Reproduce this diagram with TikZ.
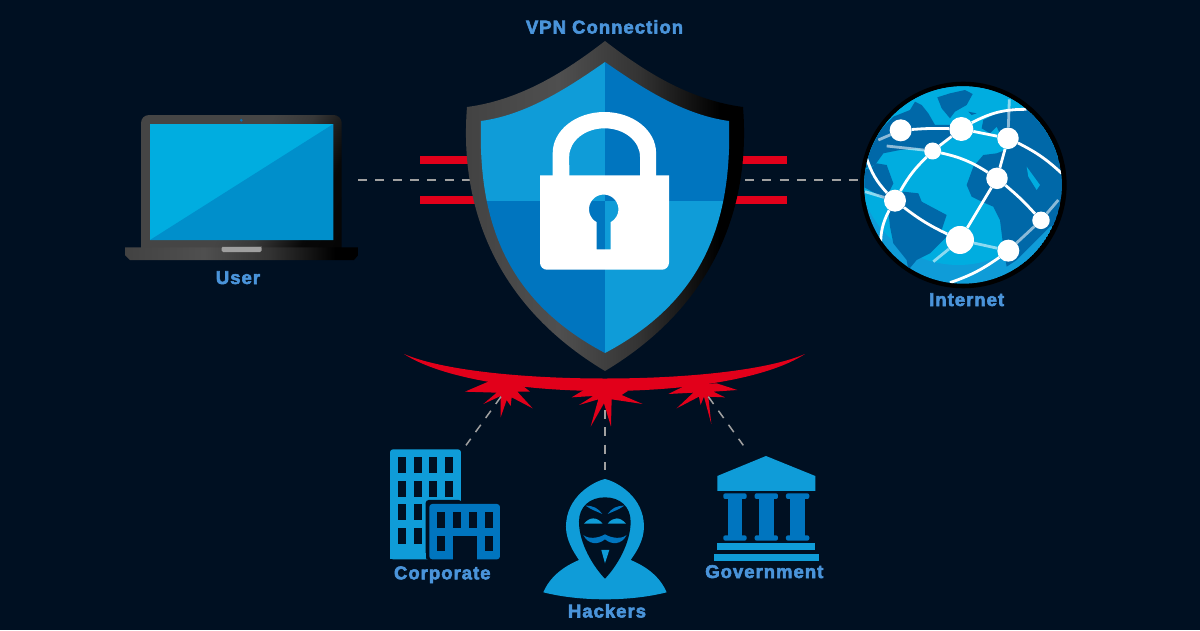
\documentclass[tikz,border=0pt]{standalone}
\usepackage{fontspec}
\setmainfont[LetterSpace=5.5,BoldFeatures={FakeBold=3}]{Liberation Sans}
\usepackage{tikz}
\usetikzlibrary{calc,positioning}

\definecolor{nightbg}{HTML}{001022}
\definecolor{alarmred}{HTML}{E2001A}
\definecolor{tilelight}{HTML}{0F9CD8}
\definecolor{tiledark}{HTML}{0075BF}
\definecolor{labelblue}{HTML}{4A94DA}
\definecolor{dashgrey}{HTML}{A0A0A0}
\definecolor{oceanblue}{HTML}{00ADE0}
\definecolor{landblue}{HTML}{0068A8}
\definecolor{screenlow}{HTML}{008FCB}

\pgfdeclarehorizontalshading{metal}{100bp}{rgb(0bp)=(.26,.26,.26); rgb(25bp)=(.26,.26,.26); rgb(42bp)=(.31,.31,.31); rgb(56bp)=(.2,.2,.2); rgb(70bp)=(0,0,0); rgb(100bp)=(0,0,0)}
\pgfdeclarehorizontalshading{lidmetal}{100bp}{rgb(0bp)=(.27,.27,.27); rgb(50bp)=(.27,.27,.27); rgb(60bp)=(.22,.22,.22); rgb(72bp)=(.03,.03,.03); rgb(100bp)=(0,0,0)}

\tikzset{
	tag/.style={text=labelblue,font=\bfseries\fontsize{18.5}{20}\selectfont,inner sep=0pt,anchor=base},
	dashlink/.style={draw=dashgrey,line width=1.5pt,dash pattern=on 9pt off 8.3pt},
	redbar/.style={draw=alarmred,line width=8pt},
	hub/.style={shape=circle,fill=white,inner sep=0pt},
	netline/.style={draw=white,line width=2.8pt},
	netfade/.style={draw=white,line width=2.8pt,opacity=0.55},
}

\begin{document}
\begin{tikzpicture}[x=1pt,y=-1pt]
	\useasboundingbox (0,0) rectangle (1200,630);
	\fill[nightbg] (0,0) rectangle (1200,630);

	% links behind the shield
	\coordinate (userport) at (358,180);
	\coordinate (shieldwest) at (470,180);
	\coordinate (shieldeast) at (745,180);
	\coordinate (netport) at (862,180);
	\draw[dashlink] (userport) -- (shieldwest);
	\draw[dashlink] (shieldeast) -- (netport);
	\coordinate (barwa) at (420,159.7);
	\coordinate (barwb) at (470,159.7);
	\coordinate (barwc) at (420,200.3);
	\coordinate (barwd) at (480,200.3);
	\coordinate (barea) at (735,159.7);
	\coordinate (bareb) at (787.3,159.7);
	\coordinate (barec) at (730,200.3);
	\coordinate (bared) at (787.3,200.3);
	\draw[redbar] (barwa) -- (barwb);
	\draw[redbar] (barwc) -- (barwd);
	\draw[redbar] (barea) -- (bareb);
	\draw[redbar] (barec) -- (bared);

	% laptop
	\shade[shading=lidmetal,shading angle=-25,rounded corners=8pt] (141,255) -- (141,115) -- (341.7,115) -- (341.7,255) -- cycle;
	\fill[oceanblue] (150,124) rectangle (333.3,240);
	\fill[screenlow] (150,240) -- (333.3,124) -- (333.3,240) -- cycle;
	\fill[tiledark] (241.3,120.3) circle[radius=1.4pt];
	\shade[shading=metal] (125,247.3) -- (358.3,247.3) -- (358.3,255) -- (354,260) -- (130,260) -- (125,255) -- cycle;
	\fill[gray!75,rounded corners=1.5pt] (221.7,246.3) -- (261.7,246.3) -- (261.7,252) -- (221.7,252) -- cycle;
	\fill[black!40!gray] (221.7,246.3) rectangle (261.7,247.3);
	\node (user) [tag] at (238,284) {User};

	% shield
	\shade[shading=metal] (605,41) .. controls (565,72) and (520,100) .. (467,107)
		.. controls (462,170) and (470,290) .. (605,371)
		.. controls (740,290) and (748,170) .. (743,107)
		.. controls (690,100) and (645,72) .. (605,41) -- cycle;
	\begin{scope}
		\clip (605,62) .. controls (565,90) and (525,115) .. (481,121)
			.. controls (478,220) and (505,300) .. (605,353)
			.. controls (705,300) and (732,220) .. (729,121)
			.. controls (685,115) and (645,90) .. (605,62) -- cycle;
		\fill[tilelight] (470,50) rectangle (605,201);
		\fill[tiledark] (605,50) rectangle (740,201);
		\fill[tiledark] (470,201) rectangle (605,360);
		\fill[tilelight] (605,201) rectangle (740,360);
	\end{scope}

	% padlock
	\fill[white] (552.7,176) -- (552.7,153) arc[start angle=180,end angle=0,x radius=51.7pt,y radius=41pt]
		-- (656,176) -- (640,176) -- (640,156.7) arc[start angle=0,end angle=180,x radius=35.4pt,y radius=28.4pt]
		-- (569.3,176) -- cycle;
	\fill[white,even odd rule] (540,175.3) -- (540,262.7) arc[start angle=180,end angle=270,radius=7pt]
		-- (662,269.7) arc[start angle=270,end angle=360,radius=7pt] -- (669,175.3) -- cycle
		(596.7,249.3) -- (596.7,222.2) arc[start angle=241.6,end angle=-61.6,radius=14.7pt]
		-- (610.7,249.3) -- cycle;
	\node (vpn) [tag] at (604.5,33.5) {VPN Connection};

	% globe
	\begin{scope}[shift={(850,70)},x=0.3333pt,y=-0.3333pt]
		\fill[black] (340,345) circle[radius=103.3pt];
		\begin{scope}
			\clip (339,345) circle[radius=98.7pt];
			\fill[tilelight] (339,345) circle[radius=98.7pt];
			\fill[oceanblue] (325,285) circle[radius=100pt];
			\fill[landblue] (262,82) -- (300,70) -- (345,60) -- (368,72) -- (350,105) -- (315,125) -- (300,145) -- (275,115) -- cycle;
			\fill[landblue] (30,250) -- (60,210) -- (95,175) -- (130,140) -- (180,120) -- (195,95) -- (215,105) -- (235,130) -- (255,165) -- (305,165) -- (330,190) -- (290,215) -- (240,245) -- (200,235) -- (150,240) -- (100,250) -- (75,285) -- (30,300) -- cycle;
			\fill[landblue] (30,300) -- (60,295) -- (80,280) -- (110,285) -- (130,340) -- (105,390) -- (85,375) -- (30,345) -- cycle;
			\fill[landblue] (115,420) -- (160,365) -- (205,370) -- (215,395) -- (290,435) -- (275,480) -- (290,500) -- (240,550) -- (200,570) -- (175,600) -- (170,570) -- (130,520) -- (120,470) -- cycle;
			\fill[landblue] (370,290) -- (400,255) -- (440,250) -- (480,235) -- (505,190) -- (530,115) -- (660,200) -- (660,450) -- (600,470) -- (560,510) -- (500,570) -- (470,590) -- (460,530) -- (450,450) -- (430,410) -- (395,395) -- (365,380) -- (350,345) -- cycle;
			\fill[landblue] (400,150) -- (440,130) -- (480,115) -- (535,115) -- (530,200) -- (470,235) -- (440,170) -- (420,190) -- (395,175) -- cycle;
			\fill[landblue] (355,125) -- (380,130) -- (365,135) -- cycle;
			\fill[oceanblue] (530,290) -- (570,345) -- (560,360) -- (535,320) -- cycle;
			% network
			\node (hubA) [hub,minimum size=22pt] at (152,181) {};
			\node (hubB) [hub,minimum size=24pt] at (334,177) {};
			\node (hubC) [hub,minimum size=21.5pt] at (474,205) {};
			\node (hubD) [hub,minimum size=17pt] at (248,243) {};
			\node (hubE) [hub,minimum size=21.5pt] at (441,325) {};
			\node (hubF) [hub,minimum size=22pt] at (135,392) {};
			\node (hubG) [hub,minimum size=28pt] at (330,510) {};
			\node (hubH) [hub,minimum size=22pt] at (475,542) {};
			\node (hubI) [hub,minimum size=17.5pt] at (573,451) {};
			\coordinate (edgeA) at (85,210);
			\coordinate (edgeB) at (110,228);
			\coordinate (edgeC) at (50,265);
			\coordinate (edgeD) at (45,365);
			\coordinate (edgeE) at (92,530);
			\coordinate (edgeF) at (530,118);
			\coordinate (edgeG) at (478,88);
			\coordinate (edgeH) at (635,310);
			\coordinate (edgeI) at (300,638);
			\coordinate (edgeJ) at (625,390);
			\coordinate (edgeK) at (250,575);
			\draw[netline] (hubA) to[bend left=3] (hubB);
			\draw[netline] (hubB) -- (hubC);
			\draw[netline] (hubB) -- (hubD);
			\draw[netline] (hubD) to[bend right=8] (hubF);
			\draw[netline] (hubD) to[bend left=10] (hubE);
			\draw[netline] (hubE) -- (hubC);
			\draw[netline] (hubE) -- (hubG);
			\draw[netline] (hubF) to[bend right=6] (hubG);
			\draw[netline] (hubE) to[bend left=4] (hubI);
			\draw[netline] (hubC) to[bend left=8] (edgeH);
			\draw[netline] (hubB) to[bend left=14] (edgeF);
			\draw[netline] (hubF) to[bend left=12] (edgeC);
			\draw[netline] (hubF) to[bend right=14] (edgeE);
			\draw[netline] (hubH) to[bend left=8] (edgeI);
			\draw[netfade] (hubC) -- (edgeG);
			\draw[netfade] (hubA) -- (edgeA);
			\draw[netfade] (hubD) -- (edgeB);
			\draw[netfade] (hubF) -- (edgeD);
			\draw[netfade] (hubG) -- (hubH);
			\draw[netfade] (hubG) -- (edgeK);
			\draw[netfade] (hubI) -- (hubH);
			\draw[netfade] (hubI) -- (edgeJ);
		\end{scope}
	\end{scope}
	\node (internet) [tag] at (966.7,306) {Internet};

	% lower group, in crop units
	\begin{scope}[shift={(380,340)},x=0.3333pt,y=-0.3333pt]
		% deflector
		\fill[alarmred] (72,42) .. controls (300,140) and (1050,140) .. (1275,42)
			.. controls (1050,190) and (300,190) .. (72,42) -- cycle;
		\fill[alarmred] (325,125) -- (255,155) -- (350,158) -- (310,192) -- (362,168) -- (362,232) -- (380,180) -- (392,198) -- (395,172) -- (458,205) -- (412,155) -- (450,155) -- (420,130) -- cycle;
		\fill[alarmred] (620,145) -- (575,172) -- (640,168) -- (597,195) -- (655,178) -- (632,260) -- (672,190) -- (693,260) -- (695,178) -- (788,192) -- (725,165) -- (745,152) -- (720,145) -- cycle;
		\fill[alarmred] (920,135) -- (865,162) -- (940,158) -- (890,205) -- (957,170) -- (962,195) -- (972,170) -- (994,252) -- (985,170) -- (1035,172) -- (1000,155) -- (1072,150) -- (1010,130) -- cycle;

		\coordinate (hitA) at (363,170);
		\coordinate (hitB) at (675,210);
		\coordinate (hitC) at (985,170);
		\coordinate (corpport) at (258,316);
		\coordinate (hackport) at (675,390);
		\coordinate (govport) at (1090,316);
		\draw[dashlink] (hitA) -- (corpport);
		\draw[dashlink] (hitB) -- (hackport);
		\draw[dashlink] (hitC) -- (govport);

		% office blocks
		\fill[tilelight,rounded corners=3pt] (30,658) -- (30,328) -- (243,328) -- (243,658) -- cycle;
		\foreach \wx in {53,101,148,195}
			\foreach \wy in {351,423,493,564}
				\fill[nightbg] (\wx,\wy) rectangle ++(24,47);
		\fill[nightbg,rounded corners=3pt] (137,660) -- (137,480) -- (245,480) -- (245,660) -- cycle;
		\fill[tilelight] (30,640) rectangle (137,658);
		\fill[tiledark,rounded corners=3pt] (148,658) -- (148,492) -- (360,492) -- (360,658) -- cycle;
		\foreach \wx in {172,219,266,314}
			\fill[nightbg] (\wx,516) rectangle ++(24,47);
		\foreach \wx in {172,314}
			\fill[nightbg] (\wx,587) rectangle ++(24,47);
		\fill[nightbg] (219,587) rectangle (290,659);

		% hooded figure
		\fill[tilelight] (675,417) .. controls (640,425) and (558,470) .. (558,560)
			.. controls (558,600) and (580,635) .. (597,660)
			.. controls (550,680) and (510,710) .. (490,757)
			.. controls (600,785) and (750,785) .. (860,757)
			.. controls (840,710) and (800,680) .. (752,660)
			.. controls (770,635) and (792,600) .. (792,560)
			.. controls (792,470) and (710,425) .. (675,417) -- cycle;
		\fill[nightbg] (675,472) .. controls (630,472) and (597,500) .. (597,545)
			.. controls (597,610) and (640,680) .. (675,716)
			.. controls (710,680) and (752,610) .. (752,545)
			.. controls (752,500) and (720,472) .. (675,472) -- cycle;
		\fill[tiledark] (617,497) .. controls (640,497) and (655,505) .. (667,522) .. controls (650,514) and (635,510) .. (617,497) -- cycle;
		\fill[tiledark] (733,497) .. controls (710,497) and (695,505) .. (683,522) .. controls (700,514) and (715,510) .. (733,497) -- cycle;
		\fill[tilelight] (612,551) .. controls (630,530) and (650,530) .. (668,551) -- cycle;
		\fill[tilelight] (683,551) .. controls (700,530) and (720,530) .. (738,551) -- cycle;
		\fill[tiledark] (610,585) .. controls (625,615) and (655,615) .. (675,598) .. controls (695,615) and (725,615) .. (740,585)
			.. controls (725,598) and (695,595) .. (675,583) .. controls (655,595) and (625,598) .. (610,585) -- cycle;
		\fill[tilelight] (664,630) -- (688,630) -- (675,670) -- cycle;

		% bank front
		\fill[tilelight] (1158,348) -- (1306,408) -- (1306,453) -- (1012,453) -- (1012,408) -- cycle;
		\foreach \cx in {1065,1159,1253} {
			\fill[tiledark] (\cx-22,465) rectangle (\cx+22,597);
			\fill[tiledark,rounded corners=2pt] (\cx-35,460) rectangle (\cx+35,477);
			\fill[tiledark,rounded corners=2pt] (\cx-35,586) rectangle (\cx+35,602);
		}
		\fill[tilelight] (1012,609) rectangle (1306,631);
		\fill[tilelight] (1002,641) rectangle (1317,663);
	\end{scope}
	\node (corporate) [tag] at (442.3,579.3) {Corporate};
	\node (hackers) [tag] at (607,617.5) {Hackers};
	\node (government) [tag] at (764.3,578) {Government};
\end{tikzpicture}
\end{document}
